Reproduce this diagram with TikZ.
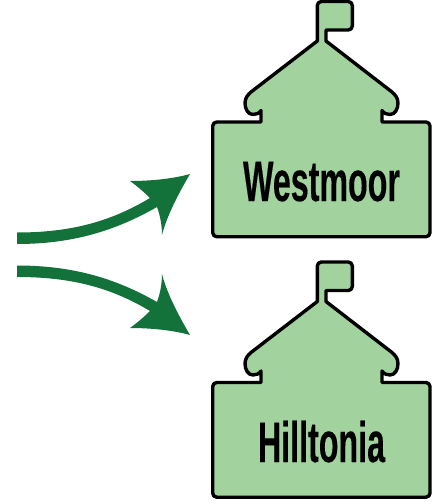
\documentclass[tikz,border=0pt]{standalone}
\usepackage{fontspec}
\setmainfont{Liberation Sans}
\newfontfamily\labelfont[FakeStretch=0.565,FakeBold=0.25]{Liberation Sans Bold}
\definecolor{bldg}{HTML}{A2D39F}
\definecolor{arrowgreen}{HTML}{13713A}
\tikzset{
  bldgshape/.style={draw=black,fill=bldg,line width=3.4pt,line join=round},
  arrowshape/.style={fill=arrowgreen,draw=none},
  bldglabel/.style={inner sep=0pt,font=\labelfont\fontsize{57}{57}\selectfont,text=black,anchor=base},
  pics/school/.style={code={
    \path[bldgshape]
      (261,122) [rounded corners=4pt] -- (212.7,122) -- (212.7,236.7) -- (430,236.7) -- (430,122) [sharp corners] -- (382,122) -- (382,110.5)
      .. controls (384,113.5) and (387,114.5) .. (390,114.5)
      .. controls (395,114.5) and (398,109) .. (398,103)
      .. controls (398,98) and (395,94.5) .. (392,92)
      -- (326,41) -- (326,30) [rounded corners=4pt] -- (352.3,30) -- (352.3,1.5) -- (317.3,1.5) [sharp corners] -- (317.3,41)
      -- (251,92)
      .. controls (248,94.5) and (245,98) .. (245,103)
      .. controls (245,109) and (248,114.5) .. (253,114.5)
      .. controls (256,114.5) and (259,113.5) .. (261,110.5)
      -- cycle;
  }}
}
\begin{document}
\begin{tikzpicture}[x=1pt,y=-1pt]
\useasboundingbox (0,0) rectangle (438,504);
\pic at (0,0) {school};
\pic at (0,260.5) {school};
\node[bldglabel] (westmoor) at (321.5,201) {Westmoor};
\node[bldglabel] (hilltonia) at (321.5,462) {Hilltonia};
% upper arrow
\fill[arrowshape] (17,232.5) .. controls (70,232.5) and (110,222) .. (150,198)
  .. controls (145,193) and (137,186) .. (130,181)
  .. controls (150,181) and (172,179) .. (190,174)
  .. controls (180,191) and (167,215) .. (162,235)
  .. controls (162,225) and (160,215) .. (157,207)
  .. controls (115,231) and (72,244) .. (17,244) -- cycle;
% lower arrow
\fill[arrowshape] (17,277) .. controls (70,277) and (110,287) .. (150,311)
  .. controls (145,316) and (137,323) .. (130,328)
  .. controls (150,328) and (172,330) .. (190,335)
  .. controls (180,318) and (167,294) .. (162,274)
  .. controls (162,284) and (160,294) .. (157,302)
  .. controls (115,278) and (72,265.5) .. (17,265.5) -- cycle;
\end{tikzpicture}
\end{document}
